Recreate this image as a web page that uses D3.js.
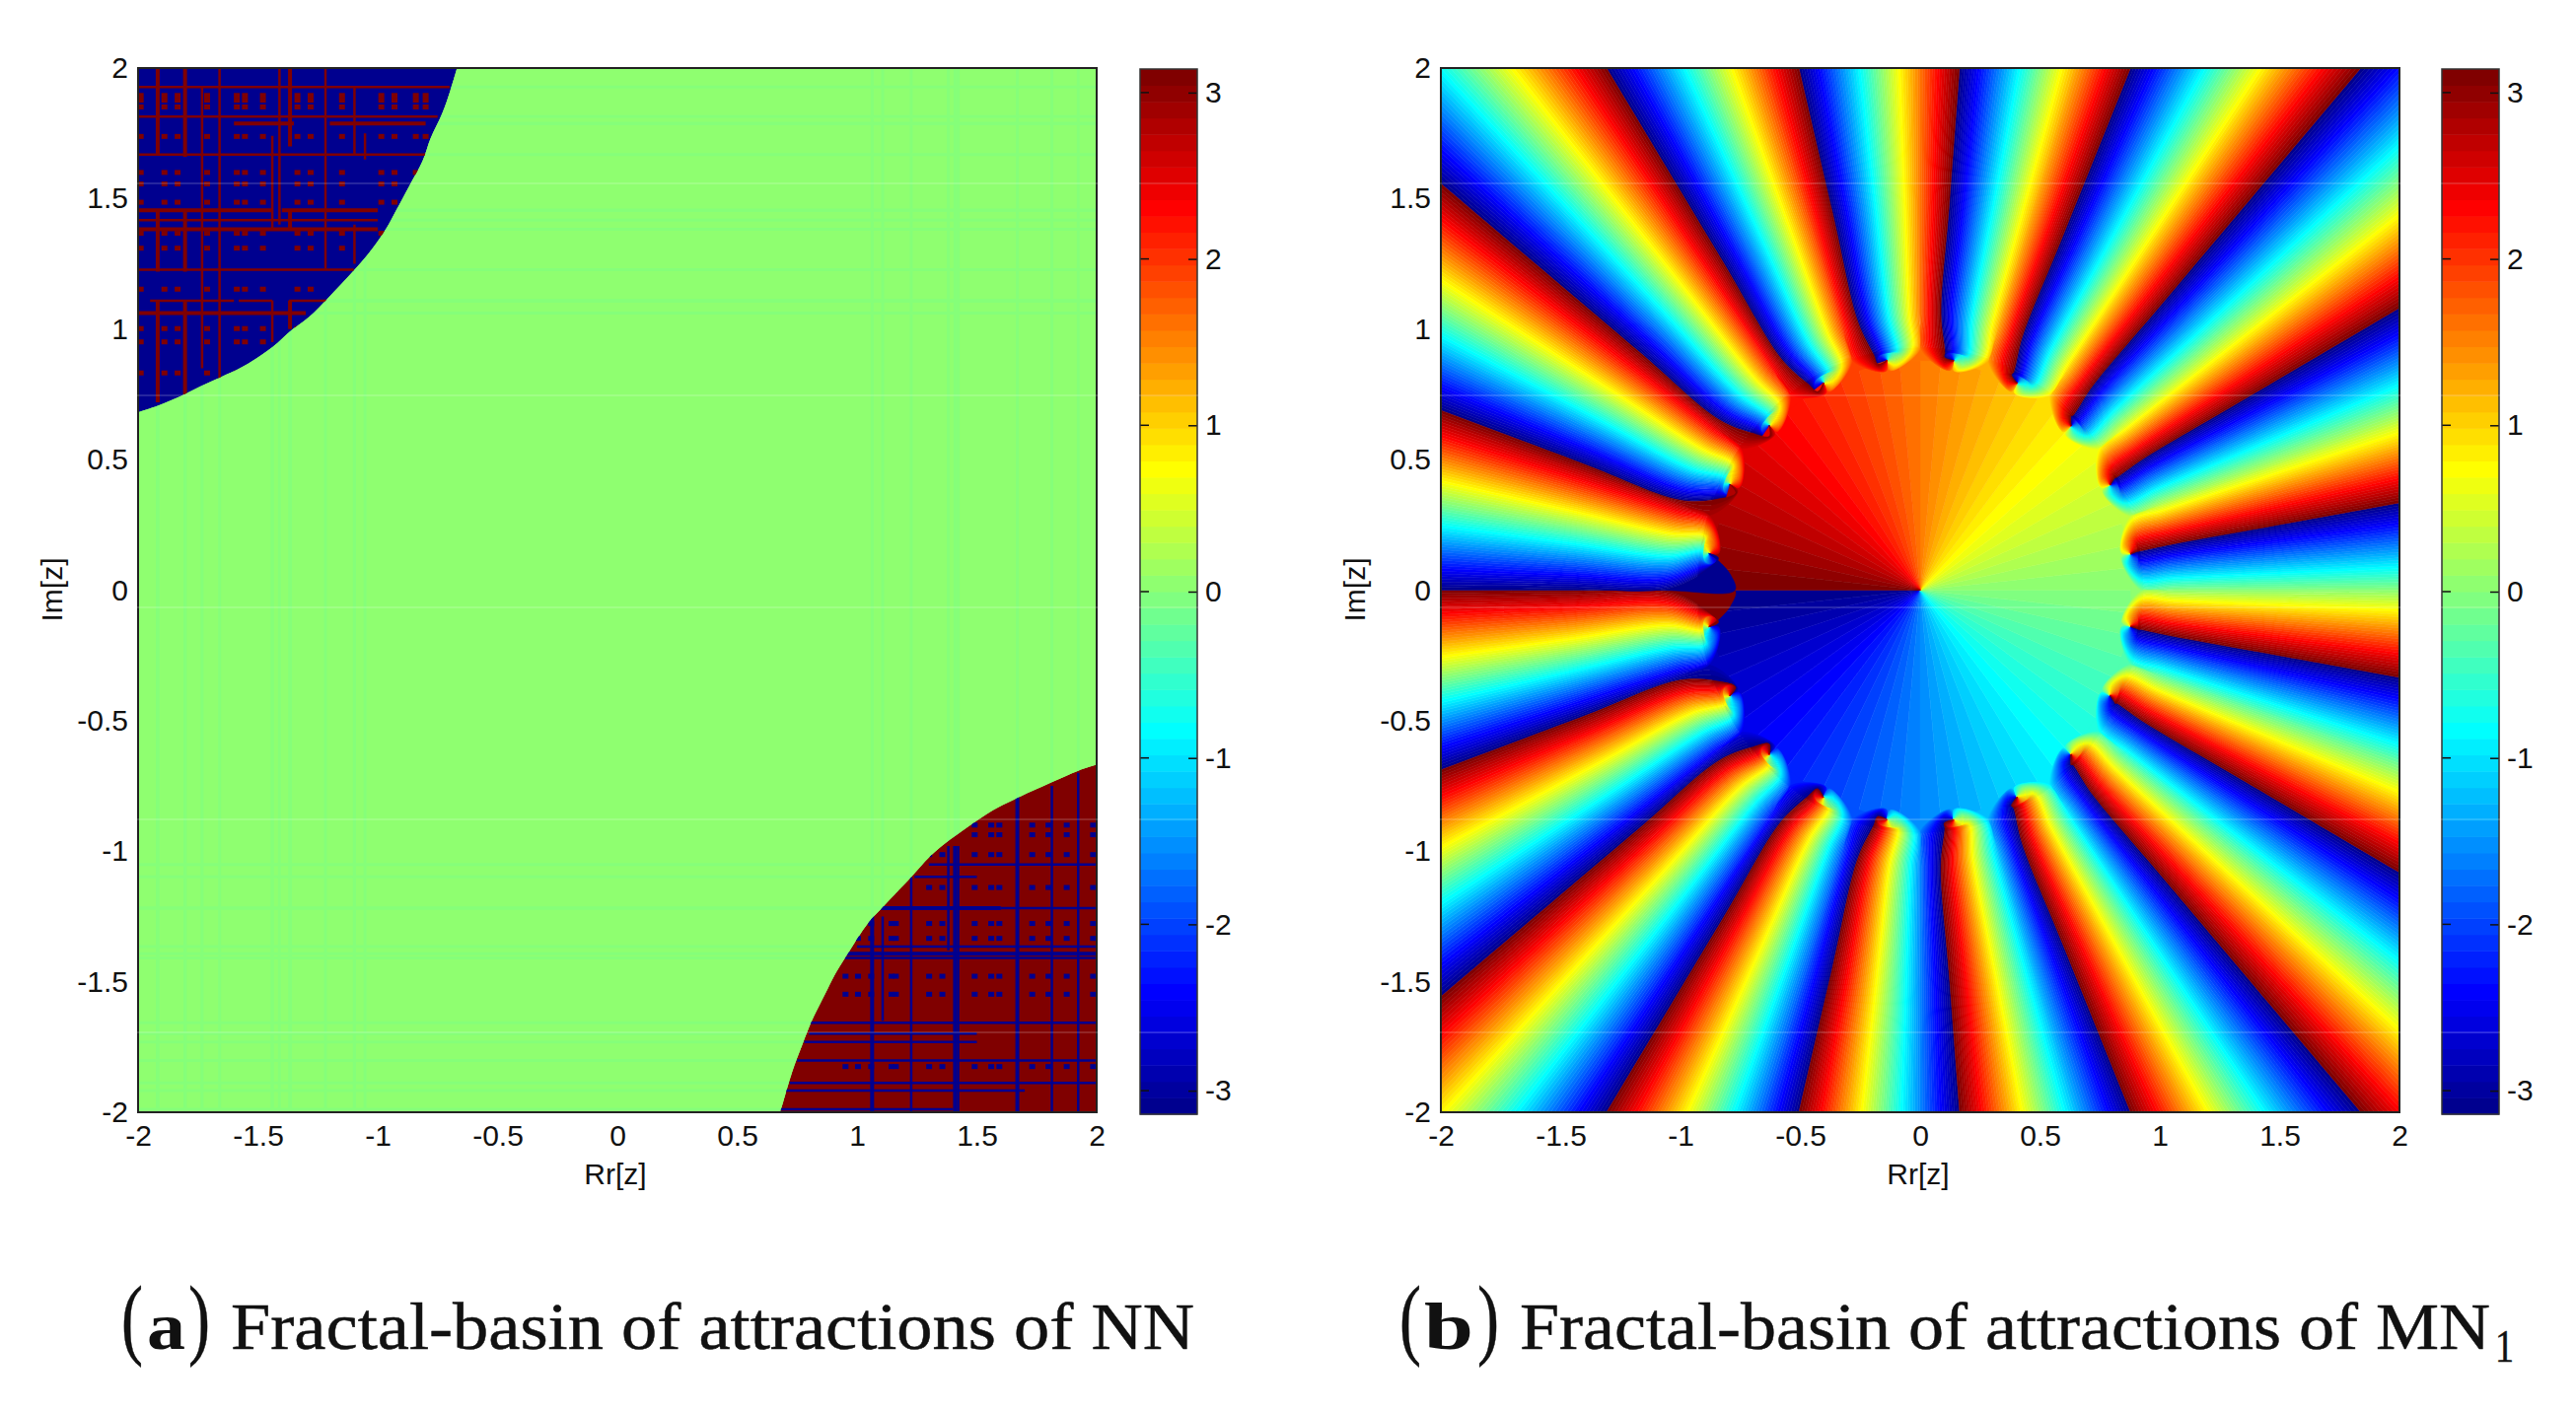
<!DOCTYPE html>
<html>
<head>
<meta charset="utf-8">
<script src="https://cdn.jsdelivr.net/npm/d3@7"></script>
<style>
  body { margin: 0; background: #fff; }
  text { font-family: "Liberation Sans", sans-serif; fill: #111; }
</style>
</head>
<body>
<svg id="chart" width="2612" height="1432"></svg>
<script>
var axisTicks = [-2, -1.5, -1, -0.5, 0, 0.5, 1, 1.5, 2];
var barTicks = [-3, -2, -1, 0, 1, 2, 3];

// jet colormap, 64 levels, anchors as level index -> colour
var jetIndex = [0, 7, 23, 39, 55, 63];
var jetColors = ["#00008f", "#0000ff", "#00ffff", "#ffff00", "#ff0000", "#800000"];

// panel (a): basin outlines, the last point is the plot corner
var nwBoundary = [[-0.669, 2], [-0.697, 1.914], [-0.731, 1.826], [-0.779, 1.732], [-0.813, 1.644], [-0.868, 1.549],
  [-0.923, 1.455], [-0.964, 1.386], [-1.026, 1.304], [-1.108, 1.216], [-1.204, 1.122], [-1.287, 1.046], [-1.369, 0.989],
  [-1.438, 0.932], [-1.561, 0.857], [-1.657, 0.815], [-1.739, 0.781], [-1.822, 0.743], [-1.918, 0.706], [-2, 0.681], [-2, 2]];
var seBoundary = [[2, -0.669], [1.923, -0.692], [1.813, -0.736], [1.676, -0.793], [1.567, -0.843], [1.484, -0.893],
  [1.388, -0.956], [1.306, -1.019], [1.224, -1.101], [1.114, -1.208], [1.045, -1.277], [0.963, -1.391], [0.908, -1.472],
  [0.867, -1.547], [0.812, -1.649], [0.771, -1.743], [0.73, -1.844], [0.689, -1.97], [0.679, -2], [2, -2]];

// lattice inside the basins: columns [x, y0, y1], rows [y, x0, x1], dots at xs * ys
var nwColsThick = [[-1.918, 2, 1.67], [-1.918, 1.46, 1.22], [-1.918, 1.11, 0.72], [-1.804, 2, 1.66], [-1.804, 1.46, 1.22],
  [-1.804, 1.11, 0.75], [-1.366, 2, 1.7], [-1.366, 1.46, 1.38], [-1.366, 1.11, 1]];
var nwColsThin = [[-1.66, 2, 0.8], [-1.44, 1.74, 1.38], [-1.44, 1.11, 0.95], [-1.218, 2, 1.23], [-1.097, 1.93, 1.67],
  [-1.097, 1.4, 1.25], [-1.053, 1.75, 1.65], [-1.41, 2, 1.4], [-1.733, 1.93, 0.85]];
var nwRowsThick = [[1.382, -2, -1], [1.455, -2, -1.44], [1.455, -1.4, -1], [1.061, -2, -1.3], [1.788, -1.6, -1.35], [1.788, -1.2, -0.8]];
var nwRowsThin = [[1.927, -2, -0.7], [1.814, -2, -0.75], [1.669, -2, -0.8], [1.417, -2, -1], [1.228, -2, -1.1], [1.109, -1.95, -1.6],
  [1.109, -1.58, -1.44], [1.109, -1.37, -1.2]];
var nwDotX = [-1.989, -1.89, -1.835, -1.712, -1.588, -1.554, -1.479, -1.335, -1.28, -1.149, -0.985, -0.93, -0.841, -0.8];
var nwDotY = [1.895, 1.877, 1.851, 1.738, 1.6, 1.556, 1.486, 1.367, 1.31, 1.153, 1.002, 0.951, 0.832];

var seColsThick = [[1.063, -1, -2], [1.669, -0.79, -2], [1.409, -0.98, -2]];
var seColsThin = [[1.226, -1.1, -2], [1.422, -0.98, -2], [1.813, -0.75, -2], [1.923, -0.7, -2], [1.107, -1.25, -1.65], [1.381, -0.98, -1.38]];
var seRowsThick = [[-1.393, 0.95, 2], [-1.218, 1.1, 1.6]];
var seRowsThin = [[-1.051, 1.3, 2], [-1.098, 1.24, 1.5], [-1.218, 1.6, 2], [-1.365, 1, 2], [-1.409, 0.95, 2], [-1.657, 0.8, 2],
  [-1.699, 0.8, 1.5], [-1.731, 0.78, 1.5], [-1.802, 0.75, 2], [-1.888, 0.72, 2], [-1.917, 0.7, 1.7], [-1.989, 0.68, 1.4]];
var seDotX = [0.952, 1.004, 1.059, 1.144, 1.162, 1.301, 1.356, 1.491, 1.56, 1.594, 1.731, 1.799, 1.875, 1.985];
var seDotY = [-0.9, -0.937, -1.013, -1.139, -1.277, -1.334, -1.479, -1.548, -1.825];

// panel (b): petal tips (degrees) and where the blue/dark red cut leaving each tip meets the frame (degrees)
var tipAngles = [-171, -153, -135, -117, -99, -81, -63, -45, -27, -9, 9, 27, 45, 63, 81, 99, 117, 135, 153, 171];
var cutAngles = [-180, -161, -142.1, -123.2, -104.2, -85.3, -66.3, -47.4, -28.4, -9.5, 9.5, 28.4, 47.4, 66.3, 85.3, 104.2, 123.2, 142.1, 161, 180];
var tipRadius = 0.89;
// the small arc that closes the disc on the left
var leftArc = [[-0.883, 0.141], [-0.845, 0.115], [-0.792, 0.06], [-0.773, 0], [-1.1, 0], [-3, 0]];

var PI = Math.PI;
var rad = PI / 180;

var jetRamp = d3.scaleLinear().domain(jetIndex).range(jetColors).interpolate(d3.interpolateRgb);
var jet = d3.range(64).map(function(i) { return d3.rgb(jetRamp(i)).formatHex(); });
var phaseColor = d3.scaleQuantize().domain([-PI, PI]).range(jet);
var phaseStep = 2 * PI / 64;

var svg = d3.select("#chart");
var top_ = 69, bottom_ = 1128;

function makePanel(left, name) {
  var w = 972;
  var x = d3.scaleLinear().domain([-2, 2]).range([left, left + w]);
  var y = d3.scaleLinear().domain([-2, 2]).range([bottom_, top_]);
  svg.append("clipPath").attr("id", "clip-" + name)
    .append("rect").attr("x", left).attr("y", top_).attr("width", w).attr("height", bottom_ - top_);
  var g = svg.append("g").attr("clip-path", "url(#clip-" + name + ")");
  return {x: x, y: y, g: g, left: left, w: w};
}

function drawLattice(g, p, cols, rows, color, width) {
  g.selectAll(null).data(cols).enter().append("line")
    .attr("x1", function(d) { return p.x(d[0]); }).attr("x2", function(d) { return p.x(d[0]); })
    .attr("y1", function(d) { return p.y(d[1]); }).attr("y2", function(d) { return p.y(d[2]); })
    .attr("stroke", color).attr("stroke-width", width);
  g.selectAll(null).data(rows).enter().append("line")
    .attr("y1", function(d) { return p.y(d[0]); }).attr("y2", function(d) { return p.y(d[0]); })
    .attr("x1", function(d) { return p.x(d[1]); }).attr("x2", function(d) { return p.x(d[2]); })
    .attr("stroke", color).attr("stroke-width", width);
}

function drawBasin(p, id, outline, base, mark, colsThick, colsThin, rowsThick, rowsThin, dotX, dotY) {
  var line = d3.line().x(function(d) { return p.x(d[0]); }).y(function(d) { return p.y(d[1]); })
    .curve(d3.curveCatmullRom.alpha(0.5));
  var corner = outline[outline.length - 1];
  var shape = line(outline.slice(0, -1)) + "L" + p.x(corner[0]) + "," + p.y(corner[1]) + "Z";
  svg.append("clipPath").attr("id", id).append("path").attr("d", shape);
  var g = p.g.append("g").attr("clip-path", "url(#" + id + ")");
  g.append("path").attr("d", shape).attr("fill", base);
  drawLattice(g, p, colsThick, rowsThick, mark, 4);
  drawLattice(g, p, colsThin, rowsThin, mark, 2.5);
  g.selectAll(null).data(d3.cross(dotX, dotY)).enter().append("rect")
    .attr("x", function(d) { return p.x(d[0]) - 3; })
    .attr("y", function(d) { return p.y(d[1]) - 2.5; })
    .attr("width", 6).attr("height", 5).attr("fill", mark);
}

/* Panel (a): flat green with a faint lattice, two basins on top. */
function drawPanelA() {
  var p = makePanel(140, "a");
  p.g.append("rect").attr("x", p.left).attr("y", top_).attr("width", p.w).attr("height", bottom_ - top_)
    .attr("fill", phaseColor(0));
  var faint = phaseColor(-0.05);
  var g = p.g.append("g").attr("opacity", 0.6);
  var allCols = nwColsThick.concat(nwColsThin, seColsThick, seColsThin).map(function(d) { return [d[0], -2, 2]; });
  var allRows = nwRowsThick.concat(nwRowsThin, seRowsThick, seRowsThin).map(function(d) { return [d[0], -2, 2]; });
  drawLattice(g, p, allCols, allRows, faint, 3);
  drawBasin(p, "nw", nwBoundary, jet[0], jet[63], nwColsThick, nwColsThin, nwRowsThick, nwRowsThin, nwDotX, nwDotY);
  drawBasin(p, "se", seBoundary, jet[63], jet[0], seColsThick, seColsThin, seRowsThick, seRowsThin, seDotX, seDotY);
  return p;
}

/* One line of constant phase inside strip i, from its tip out past the frame. */
function isoLine(i, phi) {
  var aLow = tipAngles[i], aHigh = tipAngles[i + 1];
  var gap = (aLow + aHigh) / 2;
  var bLow = cutAngles[i], bHigh = cutAngles[i + 1];
  var t = (PI - phi) / (2 * PI);
  if (i === 0 && t < 1e-6) { return leftArc.map(function(d) { return [d[0], -d[1]]; }); }
  if (i === 18 && t > 1 - 1e-6) { return leftArc; }
  var th = (bLow + t * (bHigh - bLow)) * rad;
  // just outside the ring the bands spread out, each side of the gap on its own
  var ring = d3.scaleLinear().domain([PI, gap * rad, -PI])
    .range([aLow + 0.6 * (bLow - aLow), gap, aHigh + 0.6 * (bHigh - aHigh)]);
  var thRing = ring(phi) * rad;
  var a = (phi > gap * rad ? aLow : aHigh) * rad;
  var tip = [tipRadius * Math.cos(a), tipRadius * Math.sin(a)];
  var dir = 2 * a + PI - phi;
  return [
    tip,
    [tip[0] + 0.04 * Math.cos(dir), tip[1] + 0.04 * Math.sin(dir)],
    [0.92 * Math.cos(thRing), 0.92 * Math.sin(thRing)],
    [1.06 * Math.cos(th), 1.06 * Math.sin(th)],
    [1.5 * Math.cos(th), 1.5 * Math.sin(th)],
    [3.2 * Math.cos(th), 3.2 * Math.sin(th)]
  ];
}

/* Panel (b): disc of angular slices, then one strip of 64 colour bands per petal. */
function drawPanelB() {
  var p = makePanel(1461, "b");
  var line = d3.line().x(function(d) { return p.x(d[0]); }).y(function(d) { return p.y(d[1]); })
    .curve(d3.curveCatmullRom.alpha(0.5));
  var straight = d3.line().x(function(d) { return p.x(d[0]); }).y(function(d) { return p.y(d[1]); });

  jet.forEach(function(c, l) {
    var a0 = -PI + l * phaseStep, a1 = a0 + phaseStep;
    p.g.append("path")
      .attr("d", straight([[0, 0], [0.93 * Math.cos(a0), 0.93 * Math.sin(a0)], [0.93 * Math.cos(a1), 0.93 * Math.sin(a1)]]) + "Z")
      .attr("fill", c).attr("stroke", c).attr("stroke-width", 0.5);
  });

  for (var i = 0; i < tipAngles.length - 1; i++) {
    var gap = (tipAngles[i] + tipAngles[i + 1]) / 2 * rad;
    // paint from the gap outwards so the hooks near the tips stay on top
    var order = d3.range(64).sort(function(m, n) {
      return Math.abs(-PI + (m + 0.5) * phaseStep - gap) - Math.abs(-PI + (n + 0.5) * phaseStep - gap);
    });
    order.forEach(function(l) {
      var p0 = -PI + l * phaseStep, p1 = p0 + phaseStep;
      var a = isoLine(i, p0), b = isoLine(i, p1).slice().reverse();
      p.g.append("path")
        .attr("d", line(a) + "L" + line(b).slice(1) + "Z")
        .attr("fill", jet[l]).attr("stroke", jet[l]).attr("stroke-width", 0.5);
    });
  }
  return p;
}

function drawAxes(p) {
  var gx = svg.append("g").attr("transform", "translate(0," + bottom_ + ")")
    .call(d3.axisBottom(p.x).tickValues(axisTicks).tickSize(0).tickPadding(13).tickFormat(String));
  var gy = svg.append("g").attr("transform", "translate(" + p.left + ",0)")
    .call(d3.axisLeft(p.y).tickValues(axisTicks).tickSize(0).tickPadding(10).tickFormat(String));
  [gx, gy].forEach(function(a) {
    a.select(".domain").remove();
    a.selectAll("text").attr("font-size", 30).style("font-family", "Liberation Sans");
  });
  svg.append("text").attr("x", p.left + p.w / 2 - 2).attr("y", 1201).attr("text-anchor", "middle")
    .attr("font-size", 30).text("Rr[z]");
  svg.append("text").attr("transform", "translate(" + (p.left - 77) + ",598) rotate(-90)").attr("text-anchor", "middle")
    .attr("font-size", 30).text("Im[z]");
  svg.append("rect").attr("x", p.left).attr("y", top_).attr("width", p.w).attr("height", bottom_ - top_)
    .attr("fill", "none").attr("stroke", "#222").attr("stroke-width", 2);
}

function drawColorbar(left) {
  var w = 58;
  var y = d3.scaleLinear().domain([-PI, PI]).range([1130, 70]);
  svg.selectAll(null).data(jet).enter().append("rect")
    .attr("x", left)
    .attr("y", function(d, i) { return y(-PI + (i + 1) * phaseStep); })
    .attr("width", w)
    .attr("height", function() { return y(0) - y(phaseStep) + 0.5; })
    .attr("fill", function(d) { return d; });
  var g = svg.append("g").attr("transform", "translate(" + (left + w) + ",0)")
    .call(d3.axisRight(y).tickValues(barTicks).tickSize(-9).tickPadding(8).tickFormat(String));
  g.select(".domain").remove();
  g.selectAll("line").attr("stroke", "#111").attr("stroke-width", 1.5);
  g.selectAll("text").attr("font-size", 30).style("font-family", "Liberation Sans");
  svg.selectAll(null).data(barTicks).enter().append("line")
    .attr("x1", left).attr("x2", left + 9)
    .attr("y1", function(d) { return y(d); }).attr("y2", function(d) { return y(d); })
    .attr("stroke", "#111").attr("stroke-width", 1.5);
  svg.append("rect").attr("x", left).attr("y", 70).attr("width", w).attr("height", 1060)
    .attr("fill", "none").attr("stroke", "#333").attr("stroke-width", 1.5);
}

function caption(str, x0, x1, bold, size, base) {
  svg.append("text").attr("x", x0).attr("y", base)
    .attr("textLength", x1 - x0).attr("lengthAdjust", "spacingAndGlyphs")
    .attr("font-size", size).attr("font-weight", bold ? "bold" : "normal")
    .attr("stroke", "#111").attr("stroke-width", bold ? 0 : 0.5)
    .style("font-family", "Liberation Serif").text(str);
}

var panelA = drawPanelA();
var panelB = drawPanelB();
drawAxes(panelA);
drawAxes(panelB);
drawColorbar(1156);
drawColorbar(2476);

// faint seams that run across the scan of the figure
[186, 401, 616, 831, 1047].forEach(function(r) {
  svg.append("line").attr("x1", 0).attr("x2", 2612).attr("y1", r).attr("y2", r)
    .attr("stroke", "#fff").attr("stroke-opacity", 0.3);
});

caption("(", 123, 145, false, 90, 1367);
caption("a", 149, 188, true, 68, 1368);
caption(")", 191, 213, false, 90, 1367);
caption("Fractal-basin of attractions of NN", 234, 1211, false, 68, 1368);
caption("(", 1419, 1441, false, 90, 1367);
caption("b", 1444, 1494, true, 68, 1368);
caption(")", 1498, 1520, false, 90, 1367);
caption("Fractal-basin of attractions of MN", 1541, 2525, false, 68, 1368);
caption("1", 2530, 2549, false, 46, 1381);
</script>
</body>
</html>
